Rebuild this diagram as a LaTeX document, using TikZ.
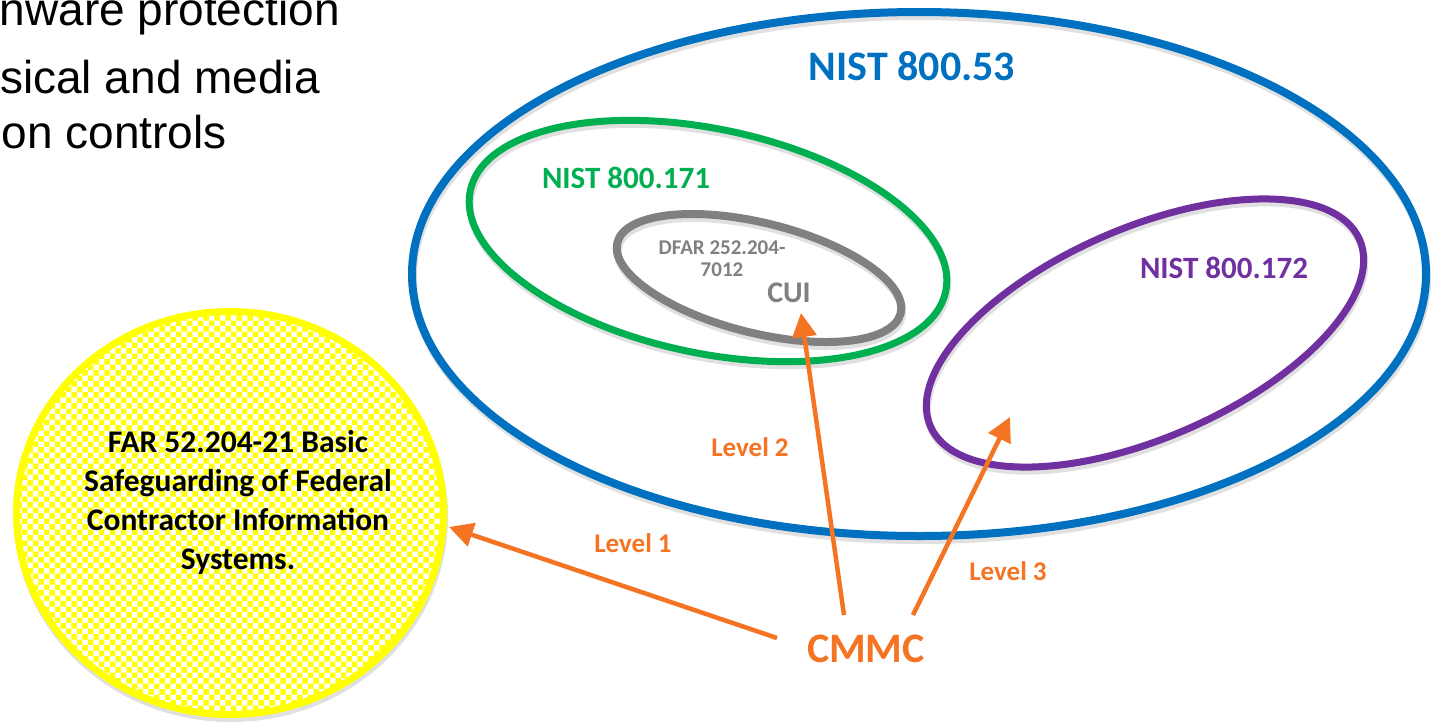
\documentclass[tikz,border=0pt]{standalone}
\usepackage{fontspec}
\setmainfont{Carlito}
\newfontfamily\arialfont{Liberation Sans}
\usetikzlibrary{shapes.geometric,arrows.meta,patterns}
\definecolor{nblue}{HTML}{0070C0}
\definecolor{ngreen}{HTML}{00B050}
\definecolor{ngray}{HTML}{808080}
\definecolor{npurple}{HTML}{7030A0}
\definecolor{norange}{HTML}{F47424}
\definecolor{nyellow}{HTML}{FFFF00}
\tikzset{
  ring/.style={ellipse, inner sep=0pt, outer sep=0pt,
    preaction={draw=black, draw opacity=0.12, transform canvas={shift={(1,4)}}}},
  lbl/.style={font=\bfseries\fontsize{#1}{#1}\selectfont, inner sep=0pt},
  arr/.style={draw=norange, line width=4.5pt, -{Triangle[length=24pt,width=24pt]}},
  bodytext/.style={font=\arialfont\fontsize{46}{52}\selectfont, anchor=base east, inner sep=0pt}
}
\begin{document}
\begin{tikzpicture}[x=1pt,y=-1pt]
\useasboundingbox (0,0) rectangle (1435,721);
\fill[white] (0,0) rectangle (1435,721);

% top-left bullet text (cut off)
\node[bodytext] (b1) at (340,25) {nware protection};
\node[bodytext] (b2) at (320,93) {sical and media};
\node[bodytext] (b3) at (227,148) {on controls};

% ellipses
\node[ring, draw=nblue, line width=8pt, minimum width=1014pt, minimum height=524pt] (n53) at (919,274) {};
\node[ring, draw=ngreen, line width=7pt, minimum width=486pt, minimum height=224pt, rotate=-12] (n171) at (708,241) {};
\node[ring, draw=ngray, line width=8pt, minimum width=292pt, minimum height=110pt, rotate=-14] (dfar) at (759,278) {};
\node[ring, draw=npurple, line width=7pt, minimum width=468pt, minimum height=210pt, rotate=23.5] (n172) at (1145,333) {};

% yellow circle
\node[ring, draw=nyellow, line width=7pt, preaction={fill=white}, pattern=checkerboard, pattern color=nyellow,
  minimum width=427pt, minimum height=403pt] (far) at (230,513) {};
\node[align=center, text=black, inner sep=0pt, font=\bfseries\fontsize{31.5}{39}\selectfont] (fartext) at (238,502)
  {FAR 52.204-21 Basic\\Safeguarding of Federal\\Contractor Information\\Systems.};

% labels
\node[lbl=42, text=nblue] (t53) at (912,66) {NIST 800.53};
\node[lbl=31, text=ngreen] (t171) at (626,178) {NIST 800.171};
\node[lbl=31, text=npurple] (t172) at (1224,268) {NIST 800.172};
\node[text=ngray, align=center, inner sep=0pt, font=\bfseries\fontsize{21}{22}\selectfont] (tdfar) at (722,259) {DFAR 252.204-\\7012};
\node[lbl=30, text=ngray] (tcui) at (789,293) {CUI};
\node[lbl=42, text=norange] (cmmc) at (866,649) {CMMC};
\node[lbl=27, text=norange] (l1) at (633,543) {Level 1};
\node[lbl=27, text=norange] (l2) at (750,447) {Level 2};
\node[lbl=27, text=norange] (l3) at (1008,571) {Level 3};

% connector ends
\coordinate (s1) at (777,638);
\coordinate (s2) at (844,615);
\coordinate (s3) at (913,615);
\coordinate (e1) at (449,527);
\coordinate (e2) at (801,313);
\coordinate (e3) at (1010,417);

\draw[arr] (s1) -- (e1);
\draw[arr] (s2) -- (e2);
\draw[arr] (s3) -- (e3);
\end{tikzpicture}
\end{document}
